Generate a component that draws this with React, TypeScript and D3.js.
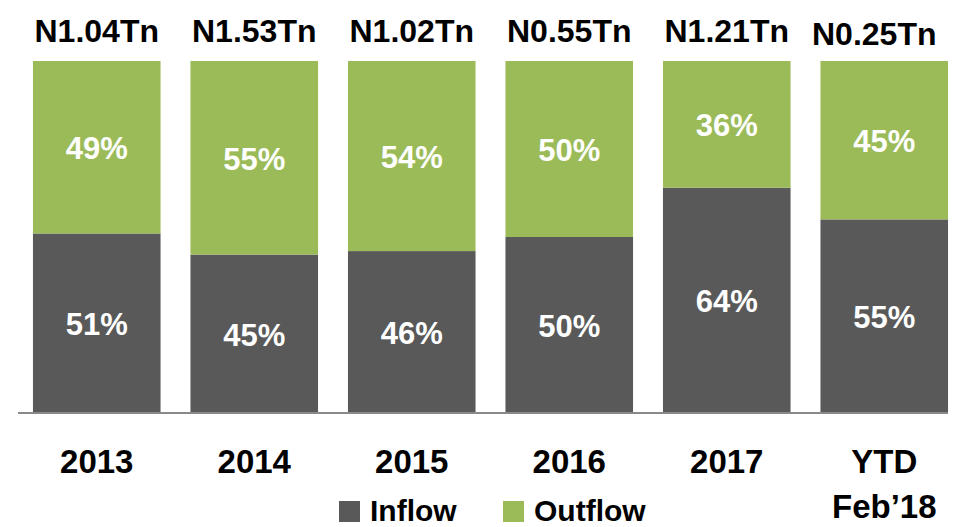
import React from "react";
import * as d3 from "d3";

const categories = ["2013", "2014", "2015", "2016", "2017", "YTD\nFeb’18"];
const inflow = [51, 45, 46, 50, 64, 55];
const outflow = [49, 55, 54, 50, 36, 45];
const totals = ["N1.04Tn", "N1.53Tn", "N1.02Tn", "N0.55Tn", "N1.21Tn", "N0.25Tn"];
const seriesNames = ["Inflow", "Outflow"];
const colors = ["#595959", "#9BBB59"];

const W = 957;
const H = 527;
const FONT = "'Liberation Sans', Arial, sans-serif";

export default function App() {
  const x = d3
    .scaleBand<string>()
    .domain(categories)
    .range([18, 963])
    .paddingInner(0.19)
    .paddingOuter(0.095);
  const y = d3.scaleLinear().domain([0, 100]).range([413, 61]);

  const rows = categories.map((c, i) => ({ cat: c, Inflow: inflow[i], Outflow: outflow[i] }));
  const stack = d3.stack<any>().keys(seriesNames)(rows);

  return (
    <svg
      width={W}
      height={H}
      style={{ position: "absolute", left: 0, top: 0, background: "#fff" }}
      fontFamily={FONT}
      fontWeight="bold"
    >
      {stack.map((layer, si) =>
        layer.map((d, i) => {
          const cat = categories[i];
          const x0 = x(cat)!;
          const y0 = y(d[1]);
          const y1 = y(d[0]);
          const v = d[1] - d[0];
          return (
            <g key={`${si}-${i}`}>
              <rect x={x0} y={y0} width={x.bandwidth()} height={y1 - y0} fill={colors[si]} />
              <text
                x={x0 + x.bandwidth() / 2}
                y={(y0 + y1) / 2 + 12}
                textAnchor="middle"
                fill="#fff"
                fontSize={31}
              >
                {`${v}%`}
              </text>
            </g>
          );
        })
      )}
      <line x1={18} x2={948} y1={413} y2={413} stroke="#898989" strokeWidth={2} />
      {totals.map((t, i) => {
        const last = i === totals.length - 1;
        return (
          <text
            key={t + i}
            x={x(categories[i])! + x.bandwidth() / 2 + (last ? -10 : 0)}
            y={last ? 45 : 42}
            textAnchor="middle"
            fontSize={32}
            fill="#000"
          >
            {t}
          </text>
        );
      })}
      {categories.map((c) => {
        const lines = c.split("\n");
        return (
          <text
            key={c}
            x={x(c)! + x.bandwidth() / 2}
            y={473}
            textAnchor="middle"
            fontSize={33}
            fill="#000"
          >
            {lines.map((l, li) => (
              <tspan key={l} x={x(c)! + x.bandwidth() / 2} dy={li === 0 ? 0 : 45}>
                {l}
              </tspan>
            ))}
          </text>
        );
      })}
      {seriesNames.map((s, i) => {
        const lx = [339, 503][i];
        return (
          <g key={s}>
            <rect x={lx} y={501} width={21} height={21} fill={colors[i]} />
            <text x={lx + 31} y={521} fontSize={30} fill="#000">
              {s}
            </text>
          </g>
        );
      })}
    </svg>
  );
}
